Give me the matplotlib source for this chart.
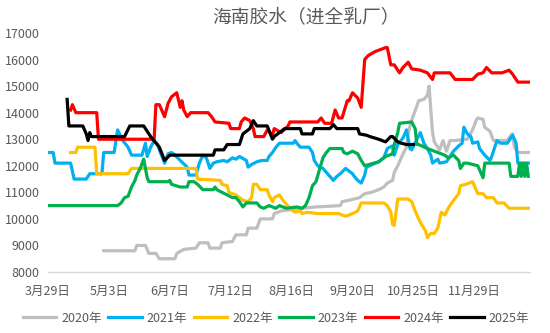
import matplotlib
matplotlib.use("Agg")
import matplotlib.pyplot as plt

plt.rcParams["font.family"] = ["Noto Sans CJK SC", "DejaVu Sans"]

TITLE = "海南胶水（进全乳厂）"
TICK_DAYS = [0, 35, 70, 105, 140, 175, 210, 245]
TICK_LABELS = ["3月29日", "5月3日", "6月7日", "7月12日", "8月16日", "9月20日", "10月25日", "11月29日"]

# days counted from 3月29日, prices in 元/吨
x_2020 = [32, 50, 51, 56, 58, 62, 64, 73, 74, 78,
          85, 87, 92, 93, 99, 100, 106, 108, 114, 115,
          120, 122, 129, 130, 134, 146, 154, 168, 169, 173,
          179, 182, 186, 190, 193, 195, 198, 199, 201, 204,
          206, 207, 208, 210, 212, 213, 216, 218, 219, 220,
          221, 222, 225, 227, 229, 231, 234, 241, 244, 246,
          247, 250, 251, 254, 256, 264, 266, 267, 268, 270,
          277]
y_2020 = [8800, 8800, 9000, 9000, 8700, 8700, 8500, 8500, 8700, 8850,
          8900, 9100, 9100, 8900, 8900, 9100, 9150, 9400, 9400, 9650,
          9650, 10000, 10000, 10200, 10300, 10400, 10450, 10500, 10650, 10700,
          10800, 10950, 11000, 11100, 11200, 11350, 11450, 11750, 12000, 12450,
          12700, 13200, 13500, 13900, 14250, 14450, 14500, 14650, 15000, 14100,
          13250, 12900, 12600, 12950, 12550, 12950, 12950, 13000, 13350, 13700,
          13800, 13750, 13450, 13300, 12950, 12950, 13150, 13200, 12700, 12500,
          12500]

x_2021 = [0, 3, 4, 13, 15, 22, 24, 31, 32, 38,
          40, 43, 46, 48, 54, 56, 57, 59, 61, 63,
          64, 67, 69, 71, 73, 76, 80, 81, 85, 87,
          89, 91, 93, 95, 97, 101, 103, 106, 108, 110,
          114, 115, 117, 120, 123, 126, 127, 129, 131, 133,
          141, 142, 143, 145, 150, 152, 153, 155, 158, 164,
          166, 168, 171, 175, 176, 178, 180, 182, 183, 190,
          193, 195, 198, 199, 201, 204, 206, 208, 209, 212,
          214, 216, 218, 220, 221, 224, 225, 229, 233, 236,
          238, 239, 241, 243, 244, 247, 248, 251, 254, 255,
          258, 260, 264, 267, 269, 270, 277]
y_2021 = [12500, 12500, 12100, 12100, 11500, 11500, 11700, 11700, 12500, 12500,
          13350, 12950, 12700, 12400, 12400, 12850, 12350, 12700, 12950, 12800,
          12600, 12100, 12450, 12500, 12400, 12200, 11950, 11650, 11650, 12100,
          12400, 12300, 11900, 12100, 12150, 12200, 12150, 12300, 12250, 12350,
          12200, 11950, 12050, 12150, 12200, 12200, 12350, 12500, 12700, 12850,
          12850, 12950, 12850, 12700, 12700, 12500, 12200, 12000, 11900, 11450,
          11600, 11700, 11900, 11700, 11600, 11450, 11350, 11650, 11950, 12150,
          12300, 12650, 12750, 12400, 12800, 13050, 13350, 12650, 12600, 13000,
          13250, 12850, 12650, 12400, 12100, 12250, 12100, 12150, 12550, 12750,
          12850, 13450, 13200, 13100, 12850, 12900, 12650, 12400, 12200, 12350,
          12950, 12850, 12850, 13150, 12850, 12100, 12100]

x_2022 = [13, 16, 17, 27, 28, 46, 48, 85, 86, 99,
          100, 103, 104, 108, 112, 115, 117, 118, 120, 122,
          126, 127, 129, 130, 133, 135, 139, 142, 145, 146,
          149, 155, 161, 167, 171, 175, 178, 180, 193, 195,
          197, 198, 199, 201, 207, 209, 211, 213, 215, 217,
          218, 220, 222, 224, 226, 228, 230, 232, 236, 237,
          240, 244, 247, 250, 252, 256, 258, 262, 265, 277]
y_2022 = [12500, 12500, 12700, 12700, 11700, 11700, 11900, 11900, 11500, 11450,
          11300, 11250, 11000, 10900, 10700, 10650, 10800, 11300, 11300, 11100,
          11100, 10900, 10650, 10800, 10900, 10700, 10400, 10250, 10300, 10200,
          10250, 10200, 10200, 10200, 10100, 10200, 10300, 10600, 10600, 10500,
          10250, 9800, 9750, 10750, 10750, 10650, 10300, 10000, 9750, 9550,
          9300, 9450, 9450, 9650, 10250, 10150, 10400, 10600, 10950, 11250,
          11300, 11400, 10950, 10950, 10800, 10800, 10600, 10600, 10400, 10400]

x_2023 = [0, 40, 42, 44, 46, 48, 50, 51, 53, 55,
          57, 58, 69, 70, 71, 76, 80, 81, 84, 86,
          89, 95, 96, 97, 100, 103, 106, 108, 110, 112,
          114, 120, 122, 124, 127, 131, 133, 137, 143, 146,
          148, 150, 152, 154, 156, 158, 160, 162, 169, 170,
          172, 175, 178, 180, 182, 190, 194, 198, 199, 201,
          202, 209, 211, 212, 213, 218, 224, 228, 230, 233,
          236, 237, 239, 241, 247, 250, 251, 265, 266, 270,
          271, 272, 273, 274, 275, 276]
y_2023 = [10500, 10500, 10600, 10800, 10850, 11200, 11450, 11650, 11900, 12250,
          11550, 11400, 11400, 11450, 11300, 11200, 11200, 11400, 11400, 11300,
          11100, 11100, 11200, 11100, 11000, 10900, 10800, 10800, 10650, 10450,
          10600, 10600, 10450, 10400, 10500, 10400, 10500, 10400, 10450, 10400,
          10500, 10800, 11250, 11400, 11850, 12300, 12500, 12650, 12650, 12500,
          12450, 12550, 12450, 12200, 12000, 12150, 12350, 12450, 12800, 13250,
          13600, 13650, 13400, 12800, 12800, 12650, 12500, 12400, 12300, 12400,
          12200, 11900, 12100, 12100, 12000, 11550, 12100, 12100, 11600, 11600,
          12100, 11600, 12100, 11600, 12100, 11600]

x_2024 = [13, 14, 16, 28, 29, 61, 62, 64, 67, 69,
          71, 74, 76, 77, 78, 80, 82, 92, 94, 96,
          104, 105, 110, 111, 113, 116, 118, 119, 124, 126,
          129, 130, 134, 138, 139, 155, 157, 159, 163, 165,
          167, 169, 172, 173, 175, 178, 180, 182, 184, 188,
          194, 195, 197, 199, 202, 204, 207, 209, 214, 218,
          221, 222, 231, 234, 244, 247, 250, 252, 255, 261,
          265, 267, 270, 277]
y_2024 = [14100, 14300, 14000, 14000, 13000, 13000, 14300, 14300, 13850, 14350,
          14600, 14750, 14200, 14450, 14100, 13850, 14000, 14000, 13850, 13650,
          13600, 13400, 13400, 13650, 13800, 13700, 13400, 13100, 13100, 13350,
          13150, 13400, 13250, 13500, 13650, 13650, 13800, 13600, 13600, 14100,
          13800, 13800, 14450, 14450, 14750, 14550, 14200, 16000, 16150, 16300,
          16450, 16450, 15800, 15800, 15500, 15700, 15900, 15650, 15600, 15500,
          15250, 15500, 15500, 15250, 15250, 15450, 15500, 15700, 15500, 15500,
          15600, 15450, 15150, 15150]

x_2025 = [11, 12, 20, 22, 23, 24, 25, 44, 47, 55,
          59, 64, 67, 70, 95, 96, 101, 103, 110, 112,
          116, 118, 120, 126, 129, 130, 136, 145, 146, 152,
          153, 162, 164, 166, 178, 179, 183, 185, 190, 194,
          197, 198, 201, 203, 206, 210]
y_2025 = [14500, 13500, 13500, 13200, 12950, 13250, 13100, 13100, 13500, 13500,
          13100, 12700, 12200, 12400, 12400, 12600, 12600, 12800, 12800, 13200,
          13400, 13700, 13500, 13500, 13000, 13100, 13400, 13400, 13200, 13200,
          13400, 13400, 13550, 13400, 13400, 13200, 13150, 13100, 13000, 12900,
          13100, 13100, 12900, 12850, 12800, 12800]

SERIES = [
    ("2020年", x_2020, y_2020, "#BFBFBF"),
    ("2021年", x_2021, y_2021, "#00B0F0"),
    ("2022年", x_2022, y_2022, "#FFC000"),
    ("2023年", x_2023, y_2023, "#00B050"),
    ("2024年", x_2024, y_2024, "#FF0000"),
    ("2025年", x_2025, y_2025, "#000000"),
]

TEXT_COLOR = "#595959"

fig = plt.figure(figsize=(5.5, 3.33), dpi=100)
ax = fig.add_axes([48 / 550, 1 - 272 / 333, (530 - 48) / 550, (272 - 33) / 333])

for label, xs, ys, color in SERIES:
    ax.plot(xs, ys, color=color, linewidth=2.3, label=label, solid_joinstyle="round")

ax.set_xlim(0, 277)
ax.set_ylim(8000, 17000)
ax.set_yticks(range(8000, 17001, 1000))
ax.set_xticks(TICK_DAYS)
ax.set_xticklabels(TICK_LABELS)
ax.tick_params(axis="both", length=0, labelsize=9, labelcolor=TEXT_COLOR)
ax.tick_params(axis="y", pad=6)
ax.tick_params(axis="x", pad=9)

for side in ["top", "right", "left"]:
    ax.spines[side].set_visible(False)
ax.spines["bottom"].set_color("#D9D9D9")
ax.spines["bottom"].set_linewidth(1)

# full-width brackets carry blank space, so nudge right to centre the ink
fig.text(0.556, 0.948, TITLE, ha="center", va="center", fontsize=13.5, color=TEXT_COLOR)

leg = fig.legend(loc="center", bbox_to_anchor=(0.502, 0.045), ncol=6, frameon=False,
                 fontsize=9, handlelength=2.7, handletextpad=0.4, columnspacing=0.5)
for t in leg.get_texts():
    t.set_color(TEXT_COLOR)

fig.savefig("out.png", dpi=100)
